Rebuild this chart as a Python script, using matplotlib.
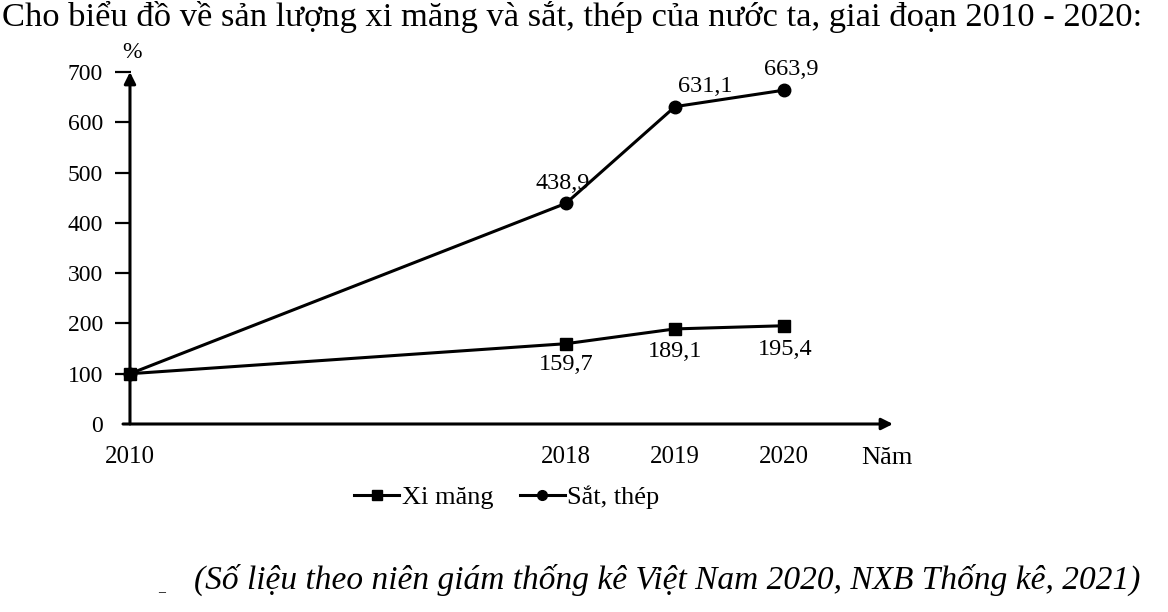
"""Line chart: cement and steel output index, Vietnam 2010-2020."""
import matplotlib
matplotlib.use("Agg")
from matplotlib import pyplot as plt

plt.rcParams["font.family"] = ["Liberation Serif", "DejaVu Serif"]

# data
years = ["2010", "2018", "2019", "2020"]
x_pos = [0, 4, 5, 6]  # uneven spacing as in the original
xi_mang = [100, 159.7, 189.1, 195.4]
sat_thep = [100, 438.9, 631.1, 663.9]
xi_mang_labels = ["", "159,7", "189,1", "195,4"]
sat_thep_labels = ["", "438,9", "631,1", "663,9"]
y_ticks = [0, 100, 200, 300, 400, 500, 600, 700]

TITLE = "Cho biểu đồ về sản lượng xi măng và sắt, thép của nước ta, giai đoạn 2010 - 2020:"
SOURCE = "(Số liệu theo niên giám thống kê Việt Nam 2020, NXB Thống kê, 2021)"

W, H = 1168, 612
fig = plt.figure(figsize=(W / 100, H / 100), dpi=100)
# axes box in pixels: x from 123 to 893, y from 424 (value 0) to 72 (value 700)
ax = fig.add_axes([123 / W, (H - 424) / H, 770 / W, 352 / H])
ax.set_xlim(-0.064, 7.0)
ax.set_ylim(0, 700)

for s in ax.spines.values():
    s.set_visible(False)

lw = 2.2
# axes drawn as arrows
ax.annotate("", xy=(0, 700), xytext=(0, 0),
            arrowprops=dict(arrowstyle="-|>", color="black", lw=lw, mutation_scale=17,
                            shrinkA=0, shrinkB=0), annotation_clip=False)
ax.annotate("", xy=(7.0, 0), xytext=(-0.064, 0),
            arrowprops=dict(arrowstyle="-|>", color="black", lw=lw, mutation_scale=17,
                            shrinkA=0, shrinkB=0), annotation_clip=False)

ax.set_yticks(y_ticks)
ax.set_yticklabels([str(v) for v in y_ticks])
ax.tick_params(axis="y", direction="inout", length=11, width=1.6, pad=9, labelsize=17)
ax.yaxis.get_major_ticks()[0].tick1line.set_visible(False)

ax.set_xticks(x_pos)
ax.set_xticklabels(years)
ax.tick_params(axis="x", length=0, pad=16, labelsize=18)

ax.plot(x_pos, xi_mang, color="black", lw=lw, marker="s", ms=8, clip_on=False,
        label="Xi măng", zorder=3)
ax.plot(x_pos, sat_thep, color="black", lw=lw, marker="o", ms=9, clip_on=False,
        label="Sắt, thép", zorder=3)

# value labels
sat_offsets = [(0, 0), (-3, 20), (30, 20), (7, 21)]
for x, y, t, off in zip(x_pos, sat_thep, sat_thep_labels, sat_offsets):
    if t:
        ax.annotate(t, (x, y), xytext=off, textcoords="offset pixels",
                    ha="center", va="center", fontsize=17.5)
xi_offsets = [(0, 0), (0, -21), (0, -23), (1, -24)]
for x, y, t, off in zip(x_pos, xi_mang, xi_mang_labels, xi_offsets):
    if t:
        ax.annotate(t, (x, y), xytext=off, textcoords="offset pixels",
                    ha="center", va="center", fontsize=17.5)

fig.text(132 / W, 1 - 53 / H, "%", ha="center", va="center", fontsize=17)
fig.text(887 / W, 1 - 458 / H, "Năm", ha="center", va="center", fontsize=19)

leg = fig.legend(loc="center", bbox_to_anchor=(507 / W, 1 - 497 / H), ncol=2, frameon=False,
                 fontsize=19, handlelength=1.7, handletextpad=0.1, columnspacing=1.0)
for h in leg.legend_handles:
    h.set_markersize(7)

fig.text(2 / W, 1 - 17 / H, TITLE, ha="left", va="center", fontsize=24.8)
fig.text(1140 / W, 1 - 580 / H, SOURCE, ha="right", va="center", fontsize=24,
         style="italic")
fig.text(158 / W, 1 - 588 / H, "_", ha="left", va="center", fontsize=10)

fig.savefig("out.png", dpi=100)
